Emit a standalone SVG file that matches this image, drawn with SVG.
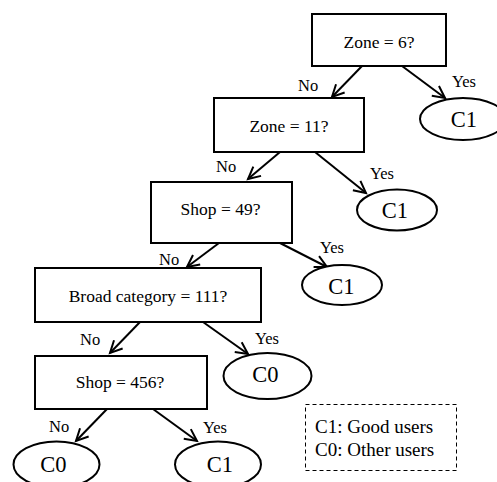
<svg xmlns="http://www.w3.org/2000/svg" width="497" height="482" viewBox="0 0 497 482">
<style>
text{font-family:"Liberation Serif","Times New Roman",serif;fill:#000}
.box{fill:#fff;stroke:#000;stroke-width:2}
.leaf{fill:#fff;stroke:#000;stroke-width:2}
.q{font-size:17.5px;text-anchor:middle}
.c{font-size:22.5px;text-anchor:middle}
.lbl{font-size:16.5px}
.edge{stroke:#000;stroke-width:2;fill:none;marker-end:url(#arr)}
.legend{fill:#fff;stroke:#000;stroke-width:1;stroke-dasharray:4 3}
.lt{font-size:19px}
</style>
<defs>
<marker id="arr" markerUnits="userSpaceOnUse" markerWidth="16" markerHeight="16" refX="13" refY="7" orient="auto" viewBox="0 0 16 14">
<path d="M1,1 L13,7 L1,13" fill="none" stroke="#000" stroke-width="2"/>
</marker>
</defs>
<rect width="497" height="482" fill="#fff"/>
<g id="connectors">
<line class="edge" x1="362" y1="66" x2="332" y2="97"/>
<line class="edge" x1="402" y1="66" x2="445" y2="98"/>
<line class="edge" x1="280" y1="152" x2="248" y2="179"/>
<line class="edge" x1="315" y1="152" x2="366" y2="193"/>
<line class="edge" x1="219" y1="243" x2="187" y2="267"/>
<line class="edge" x1="280" y1="243" x2="327" y2="267"/>
<line class="edge" x1="140" y1="322" x2="110" y2="353"/>
<line class="edge" x1="203" y1="322" x2="248" y2="354"/>
<line class="edge" x1="107" y1="409" x2="76" y2="441"/>
<line class="edge" x1="153" y1="409" x2="197" y2="441"/>
<text class="lbl" x="298" y="91">No</text>
<text class="lbl" x="452" y="87">Yes</text>
<text class="lbl" x="216" y="172">No</text>
<text class="lbl" x="370" y="179">Yes</text>
<text class="lbl" x="159" y="265">No</text>
<text class="lbl" x="320" y="253">Yes</text>
<text class="lbl" x="80" y="345">No</text>
<text class="lbl" x="255" y="344">Yes</text>
<text class="lbl" x="49" y="432">No</text>
<text class="lbl" x="203" y="433">Yes</text>
</g>
<g id="q1"><rect class="box" x="312" y="14" width="134" height="52"/><text class="q" x="379" y="48">Zone = 6?</text></g>
<g id="q2"><rect class="box" x="214" y="98" width="150" height="54"/><text class="q" x="289" y="132">Zone = 11?</text></g>
<g id="q3"><rect class="box" x="151" y="182" width="141" height="61"/><text class="q" x="220.5" y="215">Shop = 49?</text></g>
<g id="q4"><rect class="box" x="35" y="268" width="226" height="54"/><text class="q" x="148" y="302">Broad category = 111?</text></g>
<g id="q5"><rect class="box" x="35" y="356" width="172" height="53"/><text class="q" x="120" y="388">Shop = 456?</text></g>
<g id="leaf1"><ellipse class="leaf" cx="463" cy="119" rx="43" ry="21"/><text class="c" x="464" y="126.5">C1</text></g>
<g id="leaf2"><ellipse class="leaf" cx="397" cy="210" rx="40" ry="20.5"/><text class="c" x="395" y="218">C1</text></g>
<g id="leaf3"><ellipse class="leaf" cx="342" cy="285" rx="40" ry="20"/><text class="c" x="341.5" y="293.5">C1</text></g>
<g id="leaf4"><ellipse class="leaf" cx="267.5" cy="376" rx="44" ry="23"/><text class="c" x="265.5" y="382">C0</text></g>
<g id="leaf5"><ellipse class="leaf" cx="56.5" cy="464.5" rx="43" ry="23"/><text class="c" x="53.5" y="472">C0</text></g>
<g id="leaf6"><ellipse class="leaf" cx="218" cy="464.5" rx="43" ry="23"/><text class="c" x="220" y="472">C1</text></g>
<g id="legend"><rect class="legend" x="305.5" y="404.5" width="151" height="66"/><text class="lt" x="315" y="433">C1: Good users</text><text class="lt" x="315" y="456">C0: Other users</text></g>
</svg>
